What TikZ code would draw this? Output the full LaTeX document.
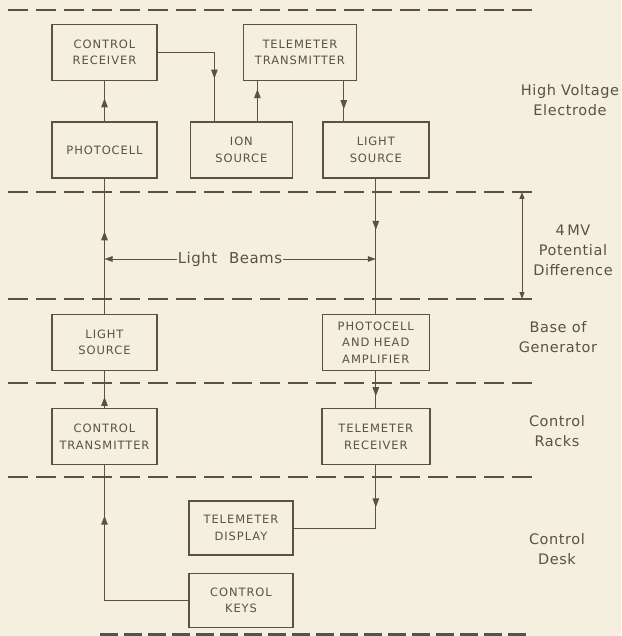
\documentclass[tikz,border=0pt]{standalone}
\usepackage{xcolor}
\usepackage{fontspec}
\setmainfont{DejaVu Sans}
\usepackage{tikz}
\usetikzlibrary{positioning,arrows.meta,decorations.markings,calc}

\definecolor{paper}{RGB}{244,239,222}
\definecolor{ink}{RGB}{92,80,72}

\begin{document}
\begin{tikzpicture}[
    x=1pt, y=-1pt,
    thick,
    ink,
    unit/.style={
        rectangle,
        draw=ink,
        line width=1.4pt,
        minimum width=105pt,
        minimum height=56pt,
        inner sep=0pt,
        align=center,
        font=\fontsize{11.5}{16.5}\selectfont\addfontfeature{LetterSpace=8}
    },
    link/.style={draw=ink, line width=1pt},
    midarrow/.style={
        link,
        postaction={decorate},
        decoration={markings,
            mark=at position #1 with {\arrow{Triangle[length=9pt,width=6.5pt]}}}
    },
    midarrow/.default=0.5,
    beam/.style={link, line width=0.8pt, -{Triangle[length=8pt,width=5.5pt]}},
    zone/.style={draw=ink, line width=1.4pt, dash pattern=on 20pt off 8pt},
    region/.style={align=center, font=\fontsize{14.5}{20}\selectfont\addfontfeature{LetterSpace=4}}
]
    \path[use as bounding box, fill=paper] (0,0) rectangle (621,636);

    % Zone boundaries
    \foreach \yy in {10,192,299,383,477}
        \draw[zone] (8,\yy) -- (533,\yy);
    \draw[zone, line width=3pt, dash pattern=on 18pt off 6pt] (100,634) -- (530,634);

    % Boxes
    \node[unit] (ctrlrx) at (104.5,52.5) {CONTROL\\RECEIVER};
    \node[unit, minimum width=113pt] (teltx) [right=85pt of ctrlrx] {TELEMETER\\TRANSMITTER};
    \node[unit] (photo) [below=40pt of ctrlrx] {PHOTOCELL};
    \node[unit, minimum width=102pt] (ion) [right=32pt of photo] {ION\\SOURCE};
    \node[unit, minimum width=106pt] (srctop) [right=29pt of ion] {LIGHT\\SOURCE};
    \node[unit] (srcbase) [below=135pt of photo] {LIGHT\\SOURCE};
    \node[unit, minimum width=107pt] (headamp) [below=135pt of srctop] {PHOTOCELL\\AND HEAD\\AMPLIFIER};
    \node[unit] (ctrltx) [below=37pt of srcbase] {CONTROL\\TRANSMITTER};
    \node[unit, minimum width=108pt] (telrx) [below=37pt of headamp] {TELEMETER\\RECEIVER};
    \node[unit, minimum width=104pt, minimum height=54pt] (teldisp) at (241,528) {TELEMETER\\DISPLAY};
    \node[unit, minimum width=104pt, minimum height=54pt] (keys) [below=17pt of teldisp] {CONTROL\\KEYS};

    % Region labels
    \node[region] (hv) at (570,100) {High Voltage\\Electrode};
    \node[region] (pd) at (573,250) {4\,MV\\Potential\\Difference};
    \node[region] (base) at (558,337) {Base of\\Generator};
    \node[region] (racks) at (557,431) {Control\\Racks};
    \node[region] (desk) at (557,549) {Control\\Desk};

    % Control path
    \draw[midarrow=0.57] (photo.north) -- (ctrlrx.south);
    \draw[midarrow=0.66] (ctrlrx.east) -| ([xshift=-27pt]ion.north);
    \draw[midarrow=0.61] (srcbase.north) -- (photo.south);
    \draw[midarrow=0.3] (ctrltx.north) -- (srcbase.south);
    \draw[midarrow=0.77] (keys.west) -| (ctrltx.south);

    % Telemeter path
    \draw[midarrow=0.8] ([xshift=16pt]ion.north) -- ([xshift=16pt]ion.north |- teltx.south);
    \draw[midarrow=0.7] ([xshift=-32pt]srctop.north |- teltx.south) -- ([xshift=-32pt]srctop.north);
    \draw[midarrow=0.38] (srctop.south) -- (headamp.north);
    \draw[midarrow=0.68] (headamp.south) -- (telrx.north);
    \draw[midarrow=0.29] (telrx.south) |- (teldisp.east);

    % Light beams
    \node[font=\fontsize{15}{17}\selectfont\addfontfeature{LetterSpace=3}, inner sep=1pt] (beams) at (230,259) {Light\hspace{12pt}Beams};
    \draw[beam] (beams.west) -- (beams.west -| srcbase.center);
    \draw[beam] (beams.east) -- (beams.east -| headamp.center);

    % Potential difference
    \coordinate (pdtop) at (522,192);
    \coordinate (pdbot) at (522,299);
    \draw[link, line width=0.8pt, {Triangle[length=7pt,width=5pt]}-{Triangle[length=7pt,width=5pt]}] (pdtop) -- (pdbot);
\end{tikzpicture}
\end{document}
